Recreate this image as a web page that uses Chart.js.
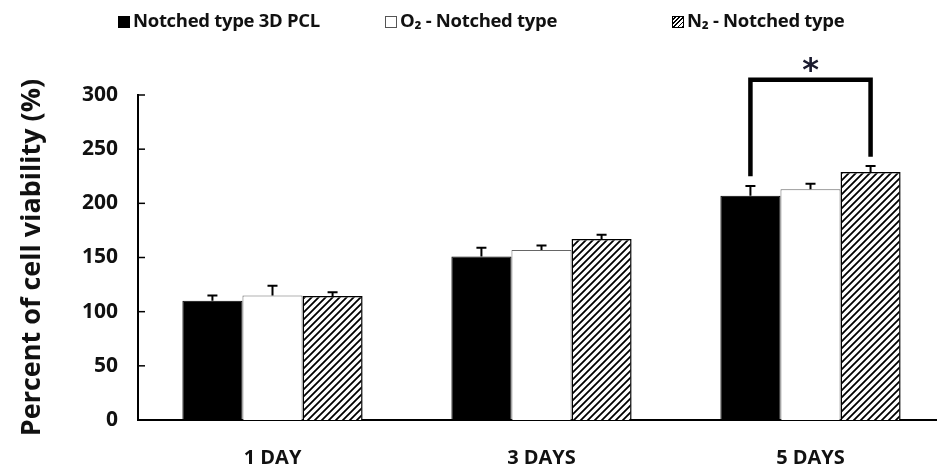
<!DOCTYPE html>
<html>
<head>
<meta charset="utf-8">
<script src="https://cdn.jsdelivr.net/npm/chart.js@4.4.0/dist/chart.umd.min.js"></script>
<style>
  body { margin: 0; background: #fff; overflow: hidden; }
  #wrap { position: relative; width: 937px; height: 474px; overflow: hidden; }
  #box { position: absolute; left: 0; top: 0; width: 960px; height: 474px; }
  .leg { position: absolute; top: 7px; font: bold 18.5px "Open Sans", sans-serif; color: #111; white-space: nowrap; letter-spacing: -0.3px; }
  .sw { display: inline-block; width: 12px; height: 12px; margin-right: 3px; vertical-align: -1px; box-sizing: border-box; border: 1px solid #000; }
</style>
</head>
<body>
<div id="wrap">
  <div id="box"><canvas id="chart" width="960" height="474"></canvas></div>
  <div class="leg" style="left:118px"><span class="sw" style="background:#000"></span>Notched type 3D PCL</div>
  <div class="leg" style="left:385px"><span class="sw" style="background:#fff;border-color:#555"></span>O₂ - Notched type</div>
  <div class="leg" style="left:672px"><span class="sw" style="background:repeating-linear-gradient(-45deg,#000 0 1.2px,#fff 1.2px 3px)"></span>N₂ - Notched type</div>
</div>
<script>
const categories = ['1 DAY', '3 DAYS', '5 DAYS'];
const seriesNames = ['Notched type 3D PCL', 'O₂ - Notched type', 'N₂ - Notched type'];
const pclValues = [110, 151, 207];
const pclErrors = [5, 8, 9];
const o2Values = [115, 157, 213];
const o2Errors = [9, 4, 5];
const n2Values = [114.5, 167, 229];
const n2Errors = [3.5, 4, 5.5];
const yTicks = [0, 50, 100, 150, 200, 250, 300];
// significance bracket between PCL and N2 on day 5: top level, left foot, right foot
const bracketLevels = [314, 225, 243];

function hatchPattern() {
  const c = document.createElement('canvas');
  c.width = 7; c.height = 7;
  const g = c.getContext('2d');
  g.fillStyle = '#fff';
  g.fillRect(0, 0, 7, 7);
  g.strokeStyle = '#000';
  g.lineWidth = 1.8;
  g.beginPath();
  g.moveTo(-1, 8); g.lineTo(8, -1);
  g.moveTo(-4, 4); g.lineTo(4, -4);
  g.moveTo(3, 11); g.lineTo(11, 3);
  g.stroke();
  return g.createPattern(c, 'repeat');
}

const errorBars = {
  id: 'errorBars',
  afterDatasetsDraw(chart) {
    const ctx = chart.ctx;
    const y = chart.scales.y;
    const errs = [pclErrors, o2Errors, n2Errors];
    ctx.save();
    ctx.strokeStyle = '#000';
    ctx.lineWidth = 2;
    chart.data.datasets.forEach((ds, i) => {
      chart.getDatasetMeta(i).data.forEach((bar, j) => {
        const top = y.getPixelForValue(ds.data[j] + errs[i][j]);
        ctx.beginPath();
        ctx.moveTo(bar.x, bar.y);
        ctx.lineTo(bar.x, top);
        ctx.moveTo(bar.x - 5, top);
        ctx.lineTo(bar.x + 5, top);
        ctx.stroke();
      });
    });
    // inward y ticks
    ctx.lineWidth = 1.5;
    yTicks.forEach(v => {
      const py = y.getPixelForValue(v);
      ctx.beginPath();
      ctx.moveTo(chart.chartArea.left, py);
      ctx.lineTo(chart.chartArea.left + 7, py);
      ctx.stroke();
    });
    // bracket
    const a = chart.getDatasetMeta(0).data[2].x;
    const b = chart.getDatasetMeta(2).data[2].x;
    const yt = y.getPixelForValue(bracketLevels[0]);
    ctx.lineWidth = 4.5;
    ctx.lineJoin = 'miter';
    ctx.beginPath();
    ctx.moveTo(a, y.getPixelForValue(bracketLevels[1]));
    ctx.lineTo(a, yt);
    ctx.lineTo(b, yt);
    ctx.lineTo(b, y.getPixelForValue(bracketLevels[2]));
    ctx.stroke();
    ctx.fillStyle = '#1a1a2e';
    ctx.font = 'bold 32px "DejaVu Sans", sans-serif';
    ctx.textAlign = 'center';
    ctx.textBaseline = 'middle';
    ctx.fillText('*', (a + b) / 2, yt - 8);
    ctx.restore();
  }
};

const hatch = hatchPattern();

new Chart(document.getElementById('chart'), {
  type: 'bar',
  data: {
    labels: categories,
    datasets: [
      { label: seriesNames[0], data: pclValues, backgroundColor: '#000', borderColor: '#000', borderWidth: 1 },
      { label: seriesNames[1], data: o2Values, backgroundColor: '#fff', borderColor: '#666', borderWidth: 1 },
      { label: seriesNames[2], data: n2Values, backgroundColor: hatch, borderColor: '#000', borderWidth: 1.5 }
    ]
  },
  options: {
    responsive: false,
    animation: false,
    events: [],
    categoryPercentage: 0.67,
    barPercentage: 1,
    layout: { padding: { top: 95, right: 15, left: 0, bottom: 0 } },
    plugins: { legend: { display: false }, tooltip: { enabled: false } },
    scales: {
      x: {
        grid: { display: false, drawTicks: false },
        border: { color: '#000', width: 2 },
        ticks: { color: '#111', padding: 26, font: { family: 'Open Sans', weight: 'bold', size: 20 } },
        afterFit: s => { s.height = 54; }
      },
      y: {
        min: 0, max: 300,
        afterBuildTicks: s => { s.ticks = yTicks.map(v => ({ value: v })); },
        grid: { display: false, drawTicks: false },
        border: { color: '#000', width: 2 },
        ticks: { color: '#111', padding: 20, font: { family: 'Open Sans', weight: 'bold', size: 21 } },
        title: { display: true, text: 'Percent of cell viability (%)', color: '#111', padding: { top: 16, bottom: 10 }, font: { family: 'Open Sans', weight: 'bold', size: 27 } },
        afterFit: s => { s.width = 138; }
      }
    }
  },
  plugins: [errorBars]
});
</script>
</body>
</html>
